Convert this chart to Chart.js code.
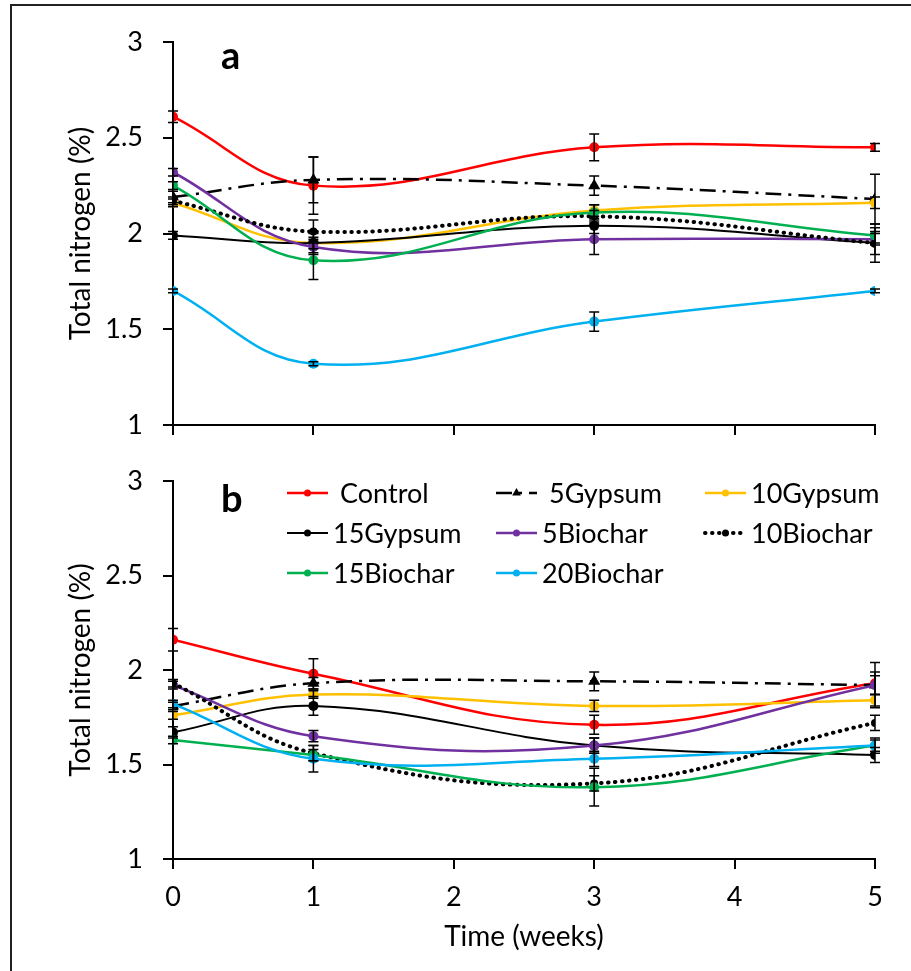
<!DOCTYPE html>
<html><head><meta charset="utf-8">
<script src="https://cdn.jsdelivr.net/npm/chart.js@4.4.0/dist/chart.umd.min.js"></script>
<style>
html,body{margin:0;padding:0;background:#fff;}
body{width:911px;height:971px;position:relative;overflow:hidden;}
#frame{position:absolute;left:10px;top:4px;width:1000px;height:1000px;border-left:2px solid #222;border-top:2px solid #222;}
#ca{position:absolute;left:0;top:0;}
#cb{position:absolute;left:0;top:455px;}
</style></head><body>
<div id="frame"></div>
<canvas id="ca" width="911" height="460"></canvas>
<canvas id="cb" width="911" height="516"></canvas>
<script>
// ---------- data ----------
const weeks = [0, 1, 3, 5];
const xTicks = [0, 1, 2, 3, 4, 5];
const yTicks = [1, 1.5, 2, 2.5, 3];
const seriesNames = ['Control', '5Gypsum', '10Gypsum', '15Gypsum', '5Biochar', '10Biochar', '15Biochar', '20Biochar'];

// panel a values
const aControl   = [2.61, 2.25, 2.45, 2.45];
const a5Gypsum   = [2.19, 2.28, 2.25, 2.18];
const a10Gypsum  = [2.16, 1.95, 2.12, 2.16];
const a15Gypsum  = [1.99, 1.95, 2.04, 1.95];
const a5Biochar  = [2.32, 1.93, 1.97, 1.97];
const a10Biochar = [2.17, 2.01, 2.09, 1.95];
const a15Biochar = [2.25, 1.86, 2.11, 1.99];
const a20Biochar = [1.70, 1.32, 1.54, 1.70];
// panel a error bars
const aControlErr   = [0.03, 0.15, 0.07, 0.02];
const a5GypsumErr   = [0.03, 0.12, 0.05, 0.13];
const a10GypsumErr  = [0.02, 0.05, 0.03, 0.03];
const a15GypsumErr  = [0.02, 0.03, 0.04, 0.10];
const a5BiocharErr  = [0.02, 0.04, 0.08, 0.03];
const a10BiocharErr = [0.02, 0.06, 0.03, 0.06];
const a15BiocharErr = [0.02, 0.10, 0.04, 0.04];
const a20BiocharErr = [0.01, 0.01, 0.05, 0.01];

// panel b values
const bControl   = [2.16, 1.98, 1.71, 1.93];
const b5Gypsum   = [1.81, 1.93, 1.94, 1.92];
const b10Gypsum  = [1.76, 1.87, 1.81, 1.84];
const b15Gypsum  = [1.67, 1.81, 1.60, 1.55];
const b5Biochar  = [1.92, 1.65, 1.60, 1.92];
const b10Biochar = [1.93, 1.56, 1.40, 1.72];
const b15Biochar = [1.63, 1.55, 1.38, 1.60];
const b20Biochar = [1.82, 1.53, 1.53, 1.60];
// panel b error bars
const bControlErr   = [0.06, 0.08, 0.05, 0.06];
const b5GypsumErr   = [0.02, 0.03, 0.05, 0.05];
const b10GypsumErr  = [0.02, 0.02, 0.03, 0.03];
const b15GypsumErr  = [0.03, 0.05, 0.04, 0.04];
const b5BiocharErr  = [0.02, 0.03, 0.04, 0.12];
const b10BiocharErr = [0.02, 0.04, 0.04, 0.04];
const b15BiocharErr = [0.02, 0.03, 0.10, 0.03];
const b20BiocharErr = [0.02, 0.07, 0.04, 0.04];

const yTitle = 'Total nitrogen (%)';
const xTitle = 'Time (weeks)';

// ---------- styles ----------
const FONT = 'Lato';
const styles = [
  {color: '#FF0000', dash: [], width: 2.5, point: 'circle', r: 5},
  {color: '#000000', dash: [16, 7, 3, 7], width: 2.5, point: 'triangle', r: 7},
  {color: '#FFC000', dash: [], width: 2.5, point: 'circle', r: 5},
  {color: '#000000', dash: [], width: 2, point: 'circle', r: 5},
  {color: '#7030A0', dash: [], width: 2.5, point: 'circle', r: 5},
  {color: '#000000', dash: [0.5, 6.5], width: 4, point: 'circle', r: 4, cap: 'round'},
  {color: '#00B050', dash: [], width: 2.5, point: 'circle', r: 5},
  {color: '#00B0F0', dash: [], width: 2.5, point: 'circle', r: 5}
];

function buildDatasets(valueLists, errLists) {
  return valueLists.map((vals, i) => {
    const s = styles[i];
    return {
      label: seriesNames[i],
      data: weeks.map((w, j) => ({x: w, y: vals[j]})),
      errors: errLists[i],
      borderColor: s.color,
      backgroundColor: s.color,
      borderWidth: s.width,
      borderDash: s.dash,
      borderCapStyle: s.cap || 'butt',
      pointStyle: s.point,
      pointRadius: s.r,
      pointBackgroundColor: s.color,
      pointBorderColor: s.color,
      pointBorderWidth: 0,
      tension: 0.4,
      fill: false,
      order: -i
    };
  });
}

// ---------- plugins ----------
const errorBarPlugin = {
  id: 'errorBars',
  afterDatasetsDraw(chart) {
    const {ctx, scales: {x, y}} = chart;
    ctx.save();
    ctx.strokeStyle = '#000';
    ctx.lineWidth = 1.5;
    ctx.setLineDash([]);
    chart.data.datasets.forEach(ds => {
      ds.data.forEach((p, j) => {
        const e = ds.errors[j];
        if (!e) return;
        const px = x.getPixelForValue(p.x);
        const y1 = y.getPixelForValue(p.y + e);
        const y2 = y.getPixelForValue(p.y - e);
        ctx.beginPath();
        ctx.moveTo(px, y1); ctx.lineTo(px, y2);
        ctx.moveTo(px - 5, y1); ctx.lineTo(px + 5, y1);
        ctx.moveTo(px - 5, y2); ctx.lineTo(px + 5, y2);
        ctx.stroke();
      });
    });
    ctx.restore();
  }
};

const panelLabelPlugin = {
  id: 'panelLabel',
  afterDraw(chart, args, opts) {
    const {ctx, chartArea} = chart;
    ctx.save();
    ctx.font = 'bold 38px ' + FONT;
    ctx.fillStyle = '#000';
    ctx.textBaseline = 'alphabetic';
    ctx.textAlign = 'left';
    ctx.fillText(opts.text, chartArea.left + opts.dx, chartArea.top + opts.dy);
    ctx.restore();
  }
};

const customLegendPlugin = {
  id: 'customLegend',
  afterDraw(chart, args, opts) {
    if (!opts.show) return;
    const {ctx, chartArea} = chart;
    const colX = [287, 496, 705];
    const rowY = [12, 52, 92];
    const lineLen = 41;
    ctx.save();
    chart.data.datasets.forEach((ds, i) => {
      const col = i % 3, row = Math.floor(i / 3);
      const x0 = colX[col], y0 = chartArea.top + rowY[row];
      ctx.beginPath();
      ctx.strokeStyle = ds.borderColor;
      ctx.lineWidth = ds.borderWidth;
      ctx.setLineDash(ds.borderDash);
      ctx.lineCap = ds.borderCapStyle;
      ctx.moveTo(x0, y0); ctx.lineTo(x0 + lineLen, y0);
      ctx.stroke();
      ctx.setLineDash([]);
      ctx.lineCap = 'butt';
      ctx.fillStyle = ds.borderColor;
      ctx.strokeStyle = ds.borderColor;
      Chart.helpers.drawPoint(ctx, {pointStyle: ds.pointStyle, radius: ds.pointStyle === 'triangle' ? 5 : 3.5, rotation: 0, borderWidth: 0},
        x0 + lineLen / 2, y0);
      ctx.fillStyle = '#000';
      ctx.font = '27px ' + FONT;
      ctx.textBaseline = 'middle';
      ctx.textAlign = 'left';
      const extra = (i === 0 || i === 1) ? 12 : 5;
      ctx.fillText(ds.label, x0 + lineLen + extra, y0 + 1);
    });
    ctx.restore();
  }
};

function makePanel(canvasId, datasets, o) {
  const canvas = document.getElementById(canvasId);
  const H = canvas.height;
  return new Chart(canvas, {
    type: 'line',
    data: {datasets},
    options: {
      responsive: false,
      animation: false,
      events: [],
      layout: {padding: {left: 0, right: 36, top: o.top, bottom: 0}},
      plugins: {
        legend: {display: false},
        tooltip: {enabled: false},
        panelLabel: {text: o.label, dx: 48, dy: o.labelDy},
        customLegend: {show: o.legend}
      },
      scales: {
        x: {
          type: 'linear', min: 0, max: 5,
          afterBuildTicks: s => { s.ticks = xTicks.map(v => ({value: v})); },
          afterFit: s => { s.height = H - o.bottom; s.paddingLeft = 0; s.paddingRight = 0; },
          grid: {drawOnChartArea: false, drawTicks: true, tickLength: 10, color: '#000', lineWidth: 2},
          border: {display: true, color: '#000', width: 2},
          ticks: {display: o.xLabels, color: '#000', font: {family: FONT, size: 27}, padding: 12, callback: v => String(v)},
          title: {display: o.xLabels, text: xTitle, color: '#000', font: {family: FONT, size: 28}, padding: {top: 0, bottom: 17}}
        },
        y: {
          type: 'linear', min: 1, max: 3,
          afterBuildTicks: s => { s.ticks = yTicks.map(v => ({value: v})); },
          afterFit: s => { s.width = 173; s.paddingTop = 0; s.paddingBottom = 0; },
          grid: {drawOnChartArea: false, drawTicks: true, tickLength: 10, color: '#000', lineWidth: 2},
          border: {display: true, color: '#000', width: 2},
          ticks: {color: '#000', font: {family: FONT, size: 27}, padding: 20, callback: v => String(v)},
          title: {display: true, text: yTitle, color: '#000', font: {family: FONT, size: 28}, padding: {top: 64, bottom: 0}}
        }
      }
    },
    plugins: [errorBarPlugin, panelLabelPlugin, customLegendPlugin]
  });
}

Chart.defaults.font.family = FONT;

makePanel('ca',
  buildDatasets([aControl, a5Gypsum, a10Gypsum, a15Gypsum, a5Biochar, a10Biochar, a15Biochar, a20Biochar],
                [aControlErr, a5GypsumErr, a10GypsumErr, a15GypsumErr, a5BiocharErr, a10BiocharErr, a15BiocharErr, a20BiocharErr]),
  {top: 42, bottom: 425, label: 'a', labelDy: 27, legend: false, xLabels: false});

makePanel('cb',
  buildDatasets([bControl, b5Gypsum, b10Gypsum, b15Gypsum, b5Biochar, b10Biochar, b15Biochar, b20Biochar],
                [bControlErr, b5GypsumErr, b10GypsumErr, b15GypsumErr, b5BiocharErr, b10BiocharErr, b15BiocharErr, b20BiocharErr]),
  {top: 26, bottom: 404, label: 'b', labelDy: 31, legend: true, xLabels: true});
</script>
</body></html>
